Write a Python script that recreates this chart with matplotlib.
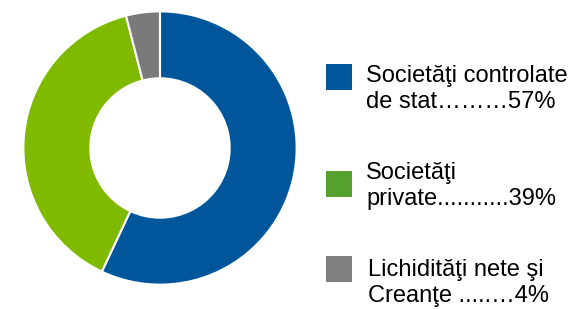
import matplotlib.pyplot as plt
from matplotlib.patches import Rectangle

plt.rcParams['font.family'] = ['Liberation Sans', 'DejaVu Sans']

labels = [u'Societăţi controlate\nde stat\u2026\u2026\u202657%',
          u'Societăţi\nprivate...........39%',
          u'Lichidităţi nete şi\nCreanţe .....\u20264%']
values = [57, 39, 4]
colors = ['#00569a', '#7fba00', '#7a7a7a']
legend_colors = ['#00569a', '#56a22e', '#7f7f7f']

W, H = 574, 309
fig = plt.figure(figsize=(W / 100, H / 100), dpi=100)

ax = fig.add_axes([22 / W, (H - 286) / H, 276 / W, 276 / H])
ax.pie(values, colors=colors, startangle=90, counterclock=False, radius=1,
       wedgeprops=dict(width=0.49, edgecolor='white', linewidth=1.5))
ax.set_xlim(-1.01, 1.01)
ax.set_ylim(-1.01, 1.01)
ax.set_aspect('equal')
ax.axis('off')

# legend drawn by hand
sq_top = [64, 171, 256]
txt_mid = [89, 186, 283]
txt_x = [366, 366, 368]
for top, mid, x, lab, c in zip(sq_top, txt_mid, txt_x, labels, legend_colors):
    fig.patches.append(Rectangle((326 / W, (H - top - 26) / H), 26 / W, 26 / H,
                                 transform=fig.transFigure, facecolor=c,
                                 edgecolor='none'))
    fig.text(x / W, (H - mid) / H, lab, ha='left', va='center',
             fontsize=17, linespacing=1.22, color='#000000')

fig.savefig('out.png', dpi=100)
